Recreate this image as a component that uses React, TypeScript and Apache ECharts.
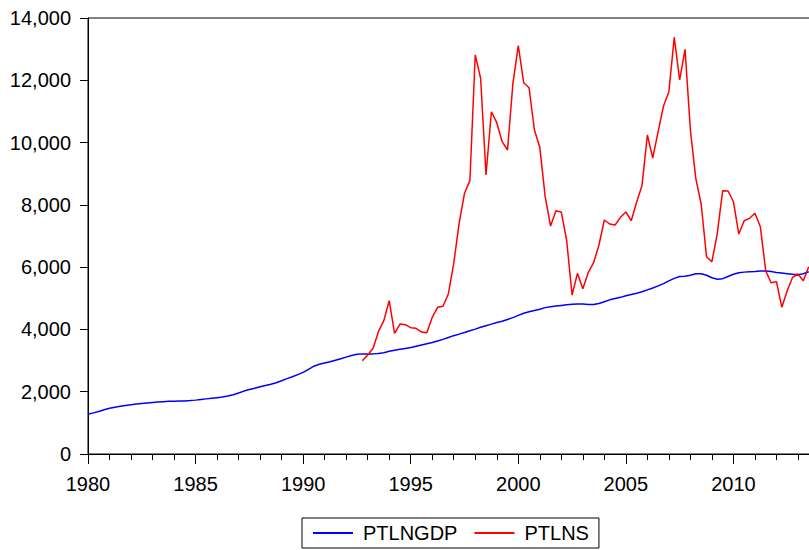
import React, { useEffect, useRef } from "react";
import * as echarts from "echarts";

// Quarterly series; first observation year (fractional for quarter start)
const GDP_START = 1980.0;
const NS_START = 1992.75;
const SERIES_NAMES = ["PTLNGDP", "PTLNS"];

// PTLNGDP, 1980Q1 .. 2013Q3
const ptlngdp = [
  1275, 1320, 1365, 1420,
  1467, 1500, 1530, 1560,
  1585, 1605, 1625, 1640,
  1655, 1670, 1680, 1690,
  1695, 1700, 1705, 1715,
  1730, 1750, 1770, 1790,
  1810, 1830, 1860, 1900,
  1960, 2020, 2070, 2110,
  2160, 2200, 2240, 2290,
  2350, 2420, 2480, 2550,
  2620, 2720, 2820, 2880,
  2920, 2960, 3010, 3060,
  3110, 3160, 3200, 3215,
  3210, 3215, 3225, 3250,
  3300, 3330, 3360, 3390,
  3420, 3460, 3500, 3540,
  3580, 3630, 3680, 3740,
  3800, 3850, 3900, 3960,
  4010, 4070, 4120, 4170,
  4220, 4260, 4320, 4380,
  4450, 4520, 4570, 4610,
  4650, 4700, 4730, 4750,
  4770, 4790, 4810, 4820,
  4815, 4800, 4800, 4830,
  4890, 4950, 4990, 5030,
  5080, 5120, 5160, 5210,
  5270, 5330, 5400, 5470,
  5560, 5640, 5700, 5710,
  5740, 5790, 5790, 5740,
  5660, 5610, 5630, 5700,
  5770, 5820, 5840, 5850,
  5860, 5880, 5880, 5860,
  5830, 5810, 5790, 5770,
  5760, 5790, 5850,
];

// PTLNS, 1992Q4 .. 2013Q3
const ptlns = [
  2996,
  3180, 3393, 3927, 4281,
  4923, 3875, 4174, 4152,
  4056, 4035, 3917, 3896,
  4389, 4710, 4742, 5138,
  6123, 7408, 8371, 8777,
  12812, 12063, 8959, 10991,
  10638, 10028, 9761, 11904,
  13111, 11923, 11762, 10404,
  9848, 8262, 7321, 7812,
  7770, 6849, 5105, 5802,
  5308, 5822, 6143, 6711,
  7514, 7385, 7353, 7600,
  7771, 7492, 8082, 8620,
  10243, 9505, 10350, 11174,
  11634, 13380, 12009, 12995,
  10404, 8852, 8027, 6335,
  6175, 7087, 8455, 8445,
  8101, 7064, 7491, 7568,
  7729, 7299, 5886, 5500,
  5533, 4710, 5244, 5673,
  5780, 5565, 6014,
];

const X_MIN = 1980;
const X_MAX = 2015;
const X_INTERVAL = 5;
const Y_MIN = 0;
const Y_MAX = 14000;
const Y_INTERVAL = 2000;

const toPairs = (start: number, vals: number[]) =>
  vals.map((v, i) => [start + i * 0.25, v]);

const FONT = "'Liberation Sans', Arial, sans-serif";

export default function App() {
  const ref = useRef<HTMLDivElement>(null);
  useEffect(() => {
    if (!ref.current) return;
    const chart = echarts.init(ref.current, undefined, { renderer: "svg" });
    chart.setOption({
      animation: false,
      backgroundColor: "#fff",
      textStyle: { fontFamily: FONT },
      grid: {
        left: 88,
        top: 18,
        bottom: 96,
        right: 0,
        show: true,
        borderColor: "#000",
        borderWidth: 1,
        containLabel: false,
      },
      legend: {
        left: 302,
        top: 518,
        orient: "horizontal",
        padding: [5, 10, 5, 11],
        borderColor: "#000",
        borderWidth: 1,
        itemGap: 17,
        itemWidth: 40,
        itemHeight: 2,
        icon: "rect",
        textStyle: {
          fontFamily: FONT,
          fontSize: 20,
          color: "#000",
          padding: [0, 0, 0, 5],
        },
        data: SERIES_NAMES,
      },
      xAxis: {
        type: "value",
        min: X_MIN,
        max: X_MAX,
        interval: X_INTERVAL,
        axisLine: { show: true, lineStyle: { color: "#000", width: 1 } },
        axisTick: { show: true, length: 10, lineStyle: { color: "#000" } },
        minorTick: { show: true, splitNumber: 5, length: 6, lineStyle: { color: "#000" } },
        splitLine: { show: false },
        axisLabel: {
          color: "#000",
          fontSize: 20,
          fontFamily: FONT,
          margin: 20,
          showMaxLabel: false,
          formatter: (v: number) => String(v),
        },
      },
      yAxis: {
        type: "value",
        min: Y_MIN,
        max: Y_MAX,
        interval: Y_INTERVAL,
        axisLine: { show: true, lineStyle: { color: "#000", width: 1 } },
        axisTick: { show: true, length: 8, lineStyle: { color: "#000" } },
        splitLine: { show: false },
        axisLabel: {
          color: "#000",
          fontSize: 20,
          fontFamily: FONT,
          margin: 17,
          formatter: (v: number) => v.toLocaleString("en-US"),
        },
      },
      series: [
        {
          name: SERIES_NAMES[0],
          type: "line",
          data: toPairs(GDP_START, ptlngdp),
          symbol: "none",
          showSymbol: false,
          lineStyle: { color: "#0000ff", width: 1.5 },
          itemStyle: { color: "#0000ff" },
        },
        {
          name: SERIES_NAMES[1],
          type: "line",
          data: toPairs(NS_START, ptlns),
          symbol: "none",
          showSymbol: false,
          lineStyle: { color: "#ff0000", width: 1.5 },
          itemStyle: { color: "#ff0000" },
        },
      ],
    });
    return () => chart.dispose();
  }, []);
  return (
    <div
      ref={ref}
      style={{ position: "fixed", left: 0, top: 0, width: 841, height: 550, overflow: "hidden" }}
    />
  );
}
